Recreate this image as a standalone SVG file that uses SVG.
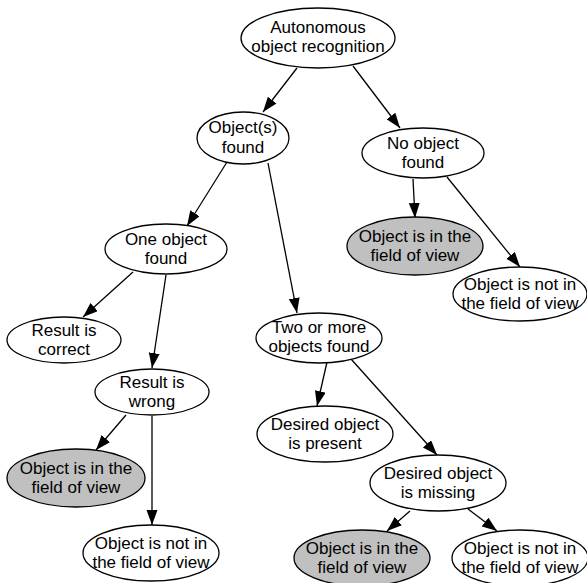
<svg xmlns="http://www.w3.org/2000/svg" width="587" height="583" viewBox="0 0 587 583">
<style>
.n{fill:#fff;stroke:#000;stroke-width:1.3}
.g{fill:#c0c0c0;stroke:#000;stroke-width:1.3}
text{font-family:"Liberation Sans",Arial,sans-serif;font-size:17px;fill:#000;text-anchor:middle}
.e{stroke:#000;stroke-width:1.3;fill:none;marker-end:url(#a)}
</style>
<defs>
<marker id="a" markerUnits="userSpaceOnUse" markerWidth="16" markerHeight="12" refX="15" refY="5.5" orient="auto">
<path d="M0,0 L15,5.5 L0,11 z" fill="#000"/>
</marker>
</defs>
<g id="edges">
<line class="e" x1="297" y1="68" x2="263" y2="112"/>
<line class="e" x1="353" y1="66" x2="400" y2="128"/>
<line class="e" x1="227" y1="162" x2="187" y2="226"/>
<line class="e" x1="268" y1="163" x2="297" y2="313"/>
<line class="e" x1="413" y1="179" x2="415" y2="218"/>
<line class="e" x1="447" y1="177" x2="520" y2="267"/>
<line class="e" x1="133" y1="272" x2="83" y2="317"/>
<line class="e" x1="166" y1="275" x2="152" y2="368"/>
<line class="e" x1="126" y1="415" x2="96" y2="450"/>
<line class="e" x1="152" y1="416" x2="152" y2="525"/>
<line class="e" x1="327" y1="362" x2="317" y2="406"/>
<line class="e" x1="351" y1="359" x2="437" y2="455"/>
<line class="e" x1="410" y1="511" x2="387" y2="531"/>
<line class="e" x1="468" y1="509" x2="497" y2="531"/>
</g>
<g id="n1"><ellipse class="n" cx="318" cy="38" rx="77" ry="30"/><text x="318" y="33">Autonomous</text><text x="318" y="52">object recognition</text></g>
<g id="n2"><ellipse class="n" cx="243" cy="138" rx="46" ry="26"/><text x="243" y="133">Object(s)</text><text x="243" y="153">found</text></g>
<g id="n3"><ellipse class="n" cx="423" cy="153" rx="61" ry="25"/><text x="423" y="149">No object</text><text x="423" y="168">found</text></g>
<g id="n4"><ellipse class="g" cx="415" cy="246" rx="68" ry="29"/><text x="415" y="242">Object is in the</text><text x="415" y="261">field of view</text></g>
<g id="n5"><ellipse class="n" cx="520" cy="294" rx="67" ry="27"/><text x="520" y="290">Object is not in</text><text x="520" y="309">the field of view</text></g>
<g id="n6"><ellipse class="n" cx="166" cy="249" rx="61" ry="25"/><text x="166" y="245">One object</text><text x="166" y="264">found</text></g>
<g id="n7"><ellipse class="n" cx="64" cy="340" rx="57" ry="23"/><text x="64" y="336">Result is</text><text x="64" y="355">correct</text></g>
<g id="n8"><ellipse class="n" cx="152" cy="392" rx="57" ry="23"/><text x="152" y="388">Result is</text><text x="152" y="407">wrong</text></g>
<g id="n9"><ellipse class="g" cx="76" cy="478" rx="69" ry="29"/><text x="76" y="474">Object is in the</text><text x="76" y="493">field of view</text></g>
<g id="n10"><ellipse class="n" cx="151" cy="553" rx="68" ry="28"/><text x="151" y="549">Object is not in</text><text x="151" y="568">the field of view</text></g>
<g id="n11"><ellipse class="n" cx="319" cy="338" rx="63" ry="25"/><text x="319" y="333">Two or more</text><text x="319" y="352">objects found</text></g>
<g id="n12"><ellipse class="n" cx="325" cy="434" rx="68" ry="28"/><text x="325" y="430">Desired object</text><text x="325" y="449">is present</text></g>
<g id="n13"><ellipse class="n" cx="438" cy="483" rx="68" ry="28"/><text x="438" y="479">Desired object</text><text x="438" y="498">is missing</text></g>
<g id="n14"><ellipse class="g" cx="362" cy="558" rx="68" ry="28"/><text x="362" y="554">Object is in the</text><text x="362" y="573">field of view</text></g>
<g id="n15"><ellipse class="n" cx="520" cy="558" rx="68" ry="28"/><text x="520" y="554">Object is not in</text><text x="520" y="573">the field of view</text></g>
</svg>
